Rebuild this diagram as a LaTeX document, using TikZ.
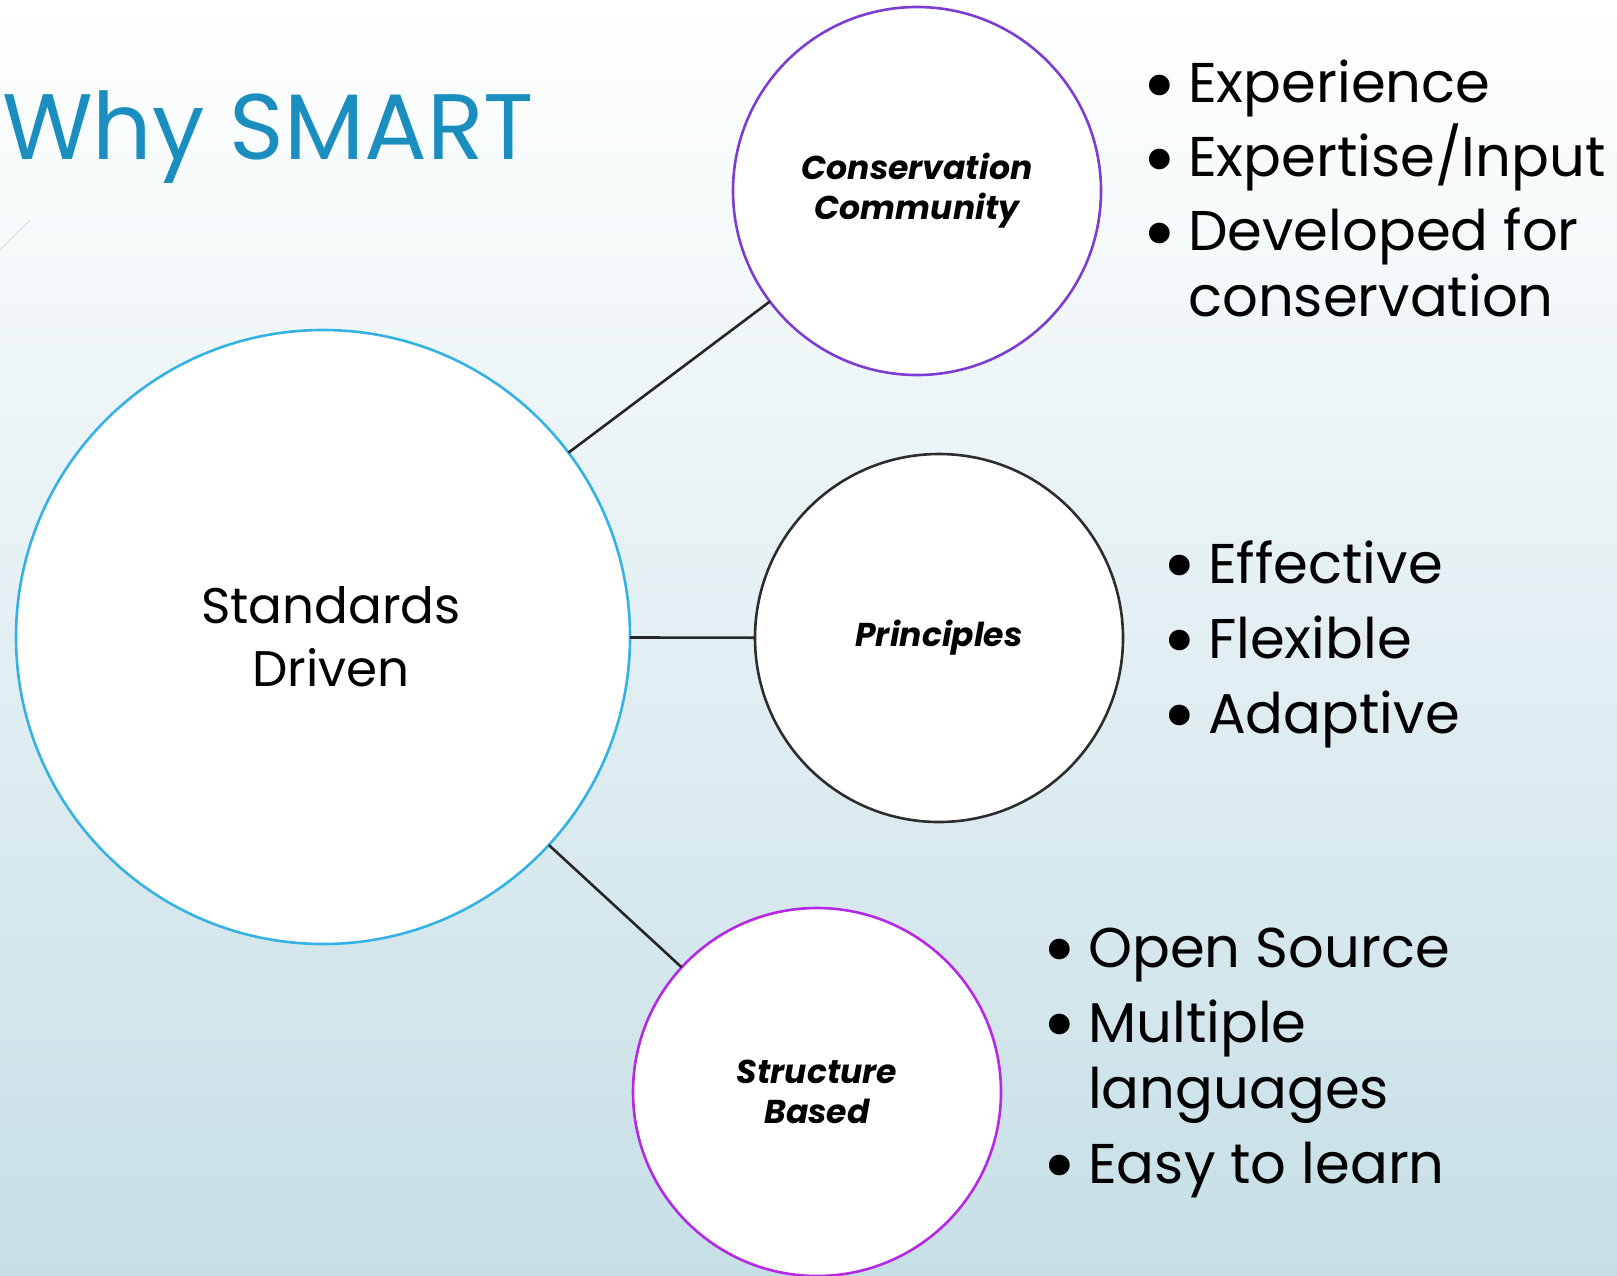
\documentclass[tikz,border=0pt]{standalone}
\usepackage{fontspec}
\setmainfont{Poppins}
\usetikzlibrary{positioning}

\definecolor{titleblue}{RGB}{26,143,191}
\definecolor{bgblue}{RGB}{198,223,230}
\definecolor{ringblue}{RGB}{52,178,228}
\definecolor{ringviolet}{RGB}{125,60,210}
\definecolor{ringmagenta}{RGB}{180,40,230}
\definecolor{ringgrey}{RGB}{45,45,45}
\definecolor{linkgrey}{RGB}{38,38,38}

\newcommand{\itemdot}{\makebox[42pt][l]{\hspace*{-4pt}\smash{\raisebox{-10.5pt}{\scalebox{1.5}{\textbullet}}}}}
\newcommand{\pointline}[1]{\itemdot\smash{#1}}
\newcommand{\moreline}[1]{\hspace*{42pt}\smash{#1}}

\begin{document}
\begin{tikzpicture}[x=1pt,y=-1pt,
    bubble/.style={circle, fill=white, line width=2.6pt, inner sep=0pt, outer sep=0pt,
        align=center, minimum size=368pt, font=\fontsize{33}{40}\selectfont\bfseries\itshape},
    link/.style={draw=linkgrey, line width=2.6pt},
    points/.style={anchor=base west, inner sep=0pt, font=\fontsize{56}{66}\selectfont}]

% slide background
\fill[top color=white, bottom color=bgblue] (0,0) rectangle (1617,1276);
\useasboundingbox (0,0) rectangle (1617,1276);
\draw[gray!30, line width=0.8pt] (0,250) -- (30,220);

\node[anchor=base west, inner sep=0pt, text=titleblue, font=\fontsize{93}{93}\selectfont]
    (title) at (2,160) {Why SMART};

% circles
\node[bubble, draw=ringblue, minimum size=614pt, font=\fontsize{50}{63}\selectfont]
    (standards) at (323,637) {\hspace*{16pt}Standards\\\hspace*{16pt}Driven};
\node[bubble, draw=ringviolet] (community) at (917,191) {Conservation\\Community};
\node[bubble, draw=ringgrey] (principles) at (939,638) {Principles};
\node[bubble, draw=ringmagenta] (structure) at (817,1092) {Structure\\Based};

\draw[link] (standards) -- (community);
\draw[link] (standards) -- (principles);
\draw[link] (standards) -- (structure);

% bullet lists
\node[points] (communitypoints) at (1146,103) {\begin{tabular}[t]{@{}l@{}}
    \pointline{Experience}\\[8pt]
    \pointline{Expertise/Input}\\[8pt]
    \pointline{Developed for}\\
    \moreline{conservation}
\end{tabular}};
\node[points] (principlepoints) at (1166,583) {\begin{tabular}[t]{@{}l@{}}
    \pointline{Effective}\\[9pt]
    \pointline{Flexible}\\[9pt]
    \pointline{Adaptive}
\end{tabular}};
\node[points] (structurepoints) at (1046,967) {\begin{tabular}[t]{@{}l@{}}
    \pointline{Open Source}\\[9pt]
    \pointline{Multiple}\\
    \moreline{languages}\\[9pt]
    \pointline{Easy to learn}
\end{tabular}};
\end{tikzpicture}
\end{document}
